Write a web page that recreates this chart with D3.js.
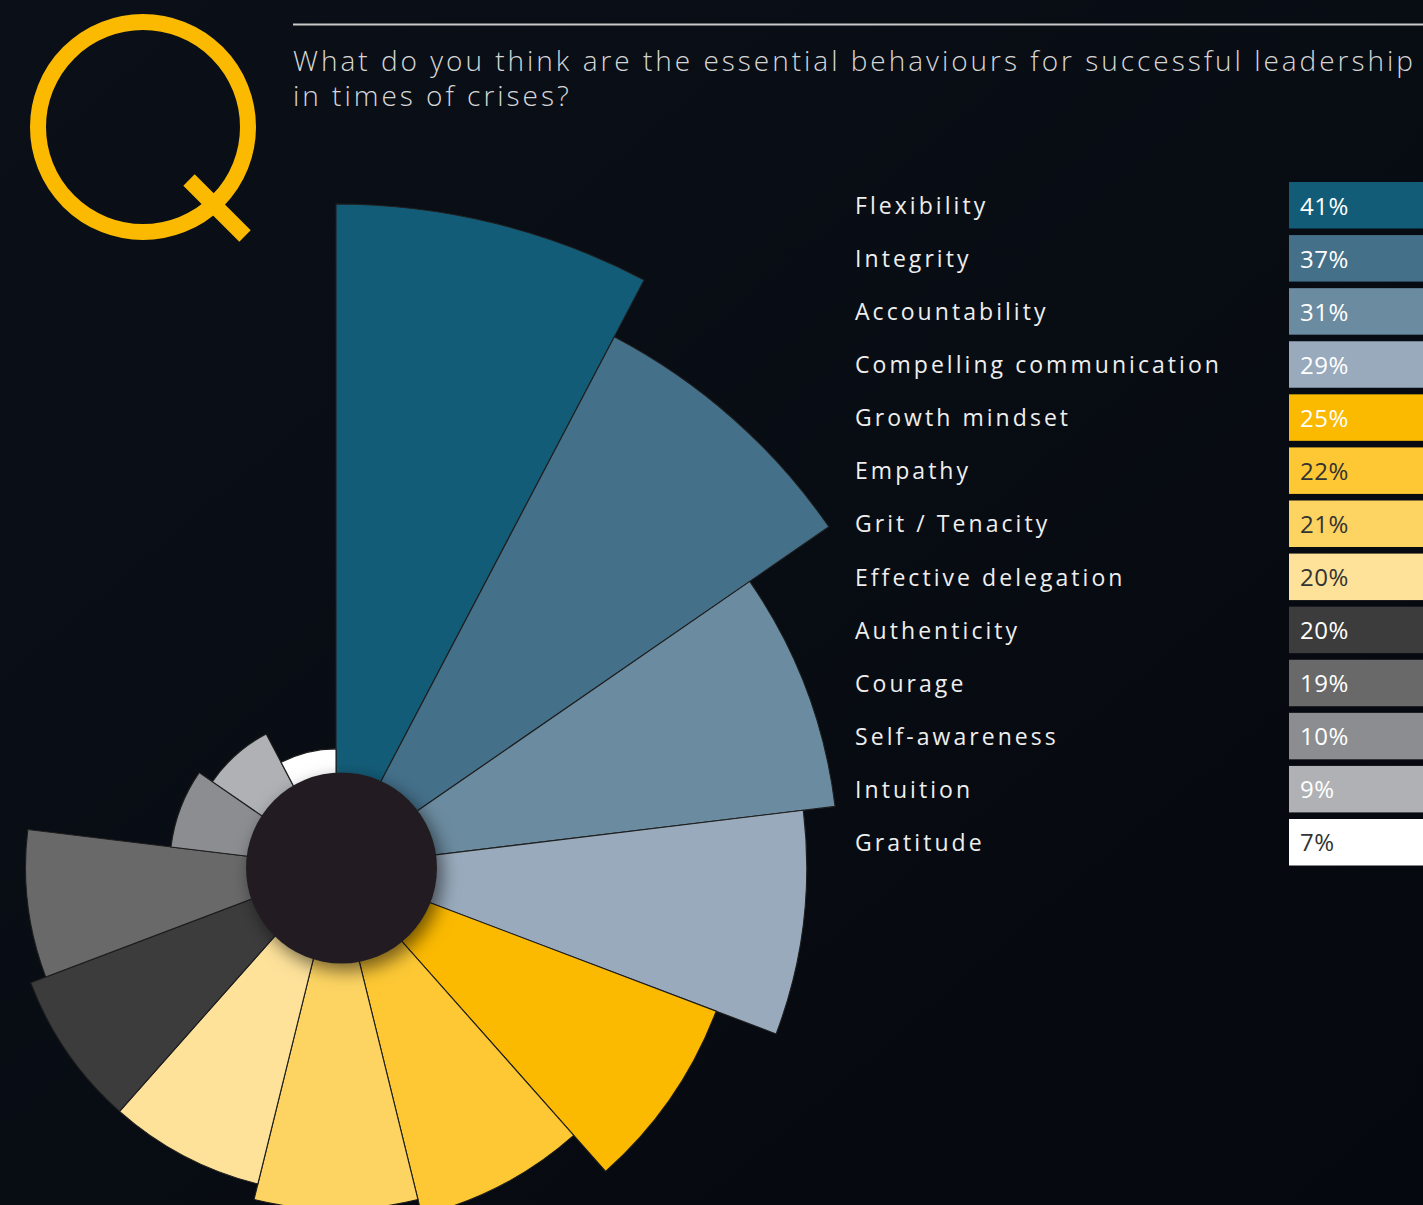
<!DOCTYPE html>
<html><head><meta charset="utf-8">
<script src="https://cdn.jsdelivr.net/npm/d3@7"></script>
<style>
html,body{margin:0;padding:0;background:#090d14;}
svg{display:block;}
</style></head>
<body>
<script>
// ---- data ----
const categories = ["Flexibility","Integrity","Accountability","Compelling communication","Growth mindset","Empathy","Grit / Tenacity","Effective delegation","Authenticity","Courage","Self-awareness","Intuition","Gratitude"];
const values = [41,37,31,29,25,22,21,20,20,19,10,9,7];
const palette = ["#135c77","#44708a","#6b8ba0","#98aabc","#fbb900","#fdc833","#fdd462","#fee29a","#3c3c3c","#696969","#8c8d90","#b0b1b4","#ffffff"];
const labelInk = ["#ffffff","#ffffff","#ffffff","#ffffff","#ffffff","#333333","#333333","#333333","#ffffff","#ffffff","#ffffff","#ffffff","#333333"];
const titleLines = ["What do you think are the essential behaviours for successful leadership","in times of crises?"];

const W = 1423, H = 1205;
const FONT = "'Open Sans', Lato, sans-serif";
const svg = d3.select("body").append("svg").attr("width", W).attr("height", H);
const defs = svg.append("defs");
const bg = defs.append("linearGradient").attr("id","bg").attr("x1","0").attr("y1","0").attr("x2","1").attr("y2","1");
bg.append("stop").attr("offset","0").attr("stop-color","#0b1018");
bg.append("stop").attr("offset","1").attr("stop-color","#05080e");
const f = defs.append("filter").attr("id","shadow").attr("x","-50%").attr("y","-50%").attr("width","200%").attr("height","200%");
f.append("feDropShadow").attr("dx",5).attr("dy",7).attr("stdDeviation",9).attr("flood-color","#000").attr("flood-opacity",0.55);

svg.append("rect").attr("width",W).attr("height",H).attr("fill","url(#bg)");

const color = d3.scaleOrdinal().domain(categories).range(palette);
const ink = d3.scaleOrdinal().domain(categories).range(labelInk);

// ---- Q logo ----
const q = svg.append("g").attr("fill","none").attr("stroke","#fbb900");
q.append("circle").attr("cx",143).attr("cy",127).attr("r",105).attr("stroke-width",16);
q.append("line").attr("x1",189).attr("y1",180).attr("x2",245).attr("y2",236).attr("stroke-width",16);

// ---- title ----
svg.append("line").attr("x1",293).attr("x2",W).attr("y1",24.5).attr("y2",24.5).attr("stroke","#c9c9c9").attr("stroke-width",2);
const title = svg.append("g").attr("font-family",FONT).attr("font-weight",300).attr("font-size",28).attr("fill","#d6d6d6");
const tl = title.selectAll("text").data(titleLines).join("text")
  .attr("x",293).attr("y",(d,i)=>71 + i*35).text(d=>d);
{
  const w0 = tl.node().getComputedTextLength();
  const ls = (1123 - w0) / (titleLines[0].length);
  tl.attr("letter-spacing", ls);
}

// ---- polar chart ----
const cx = 336, cy = 867;
const r = d3.scaleLinear().domain([0,41]).range([6,663]);
const ang = d3.scaleBand().domain(categories).range([0, 2*Math.PI]).padding(0);
const arc = d3.arc().innerRadius(0).outerRadius(d=>r(d.v))
  .startAngle(d=>ang(d.c)).endAngle(d=>ang(d.c)+ang.bandwidth());
const data = categories.map((c,i)=>({c, v: values[i]}));
const g = svg.append("g").attr("transform",`translate(${cx},${cy})`);
g.selectAll("path").data(data).join("path")
  .attr("d",arc).attr("fill",d=>color(d.c))
  .attr("stroke","#1e1e1e").attr("stroke-width",1.1).attr("stroke-linejoin","miter");

svg.append("circle").attr("cx",341.5).attr("cy",868).attr("r",95.5)
  .attr("fill","#231f20").attr("filter","url(#shadow)");

// ---- legend ----
const y = d3.scaleBand().domain(categories).range([182, 865.5]).paddingInner(0.124).paddingOuter(0);
const rows = svg.append("g").selectAll("g").data(data).join("g").attr("transform",d=>`translate(0,${y(d.c)})`);
rows.append("rect").attr("x",1289).attr("y",0).attr("width",W-1289+5).attr("height",y.bandwidth()).attr("fill",d=>color(d.c));
const labs = rows.append("text").attr("x",855).attr("y",32).attr("font-family",FONT)
  .attr("font-size",23).attr("fill","#eeeeee").text(d=>d.c);
{
  const idx = categories.indexOf("Compelling communication");
  const w0 = labs.nodes()[idx].getComputedTextLength();
  const ls = (367 - w0) / categories[idx].length;
  labs.attr("letter-spacing", ls);
}
rows.append("text").attr("x",1300).attr("y",32.5).attr("font-family",FONT)
  .attr("font-size",24).attr("letter-spacing",0.5).attr("fill",d=>ink(d.c)).text(d=>d.v+"%");
</script>
</body></html>
